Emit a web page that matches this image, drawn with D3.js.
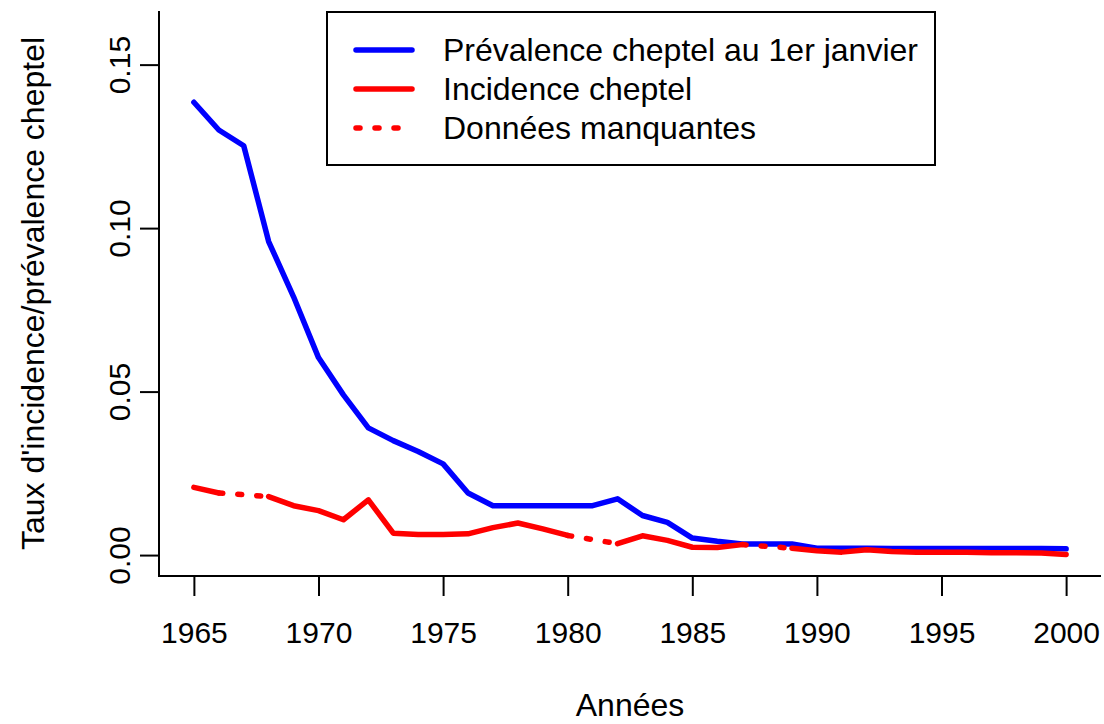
<!DOCTYPE html>
<html>
<head>
<meta charset="utf-8">
<script src="https://cdn.jsdelivr.net/npm/d3@7"></script>
<style>
  body { margin: 0; background: #fff; }
  svg text { font-family: "Liberation Sans", Arial, sans-serif; fill: #000; }
</style>
</head>
<body>
<svg class="s"></svg>
<script>
var w = 1104;
var h = 724;

// years 1965..2000
var years = [1965,1966,1967,1968,1969,1970,1971,1972,1973,1974,1975,1976,1977,1978,1979,1980,1981,1982,
             1983,1984,1985,1986,1987,1988,1989,1990,1991,1992,1993,1994,1995,1996,1997,1998,1999,2000];

// prevalence at 1 January (blue)
var prevalence = [0.1385,0.1300,0.1252,0.0959,0.0790,0.0604,0.0490,0.0389,0.0350,0.0317,0.0279,0.0190,
                  0.0151,0.0151,0.0151,0.0151,0.0151,0.0172,0.0121,0.0100,0.0052,0.0042,0.0034,0.0034,
                  0.0034,0.0021,0.0021,0.0021,0.0020,0.0020,0.0020,0.0020,0.0020,0.0020,0.0020,0.0019];

// incidence (red), null = missing year
var incidence = [0.0207,0.0190,null,0.0179,0.0151,0.0136,0.0108,0.0169,0.0067,0.0063,0.0063,0.0065,
                 0.0084,0.0098,0.0080,0.0060,null,0.0035,0.0059,0.0045,0.0024,0.0023,0.0032,null,
                 0.0021,0.0013,0.0009,0.0016,0.0011,0.0009,0.0009,0.0009,0.0007,0.0007,0.0006,0.0002];

var xTicks = [1965,1970,1975,1980,1985,1990,1995,2000];
var yTicks = [0,0.05,0.10,0.15];

var legendLabels = ['Prévalence cheptel au 1er janvier','Incidence cheptel','Données manquantes'];
var legendColors = ['#0000ff','#ff0000','#ff0000'];

var mLeft = 159, mRight = 1101, mTop = 11, mBottom = 576;

var svg = d3.select('.s')
            .attr('width',w)
            .attr('height',h);

// R style 4% extension
var xScale = d3.scaleLinear()
               .domain([1965 - 35*0.04, 2000 + 35*0.04])
               .range([mLeft,mRight]);

var yScale = d3.scaleLinear()
               .domain([0 - 0.16*0.04, 0.16 + 0.16*0.04])
               .range([mBottom,mTop]);

// L shaped box
svg.append('path')
   .attr('d','M'+mLeft+','+mTop+'V'+mBottom+'H'+mRight)
   .attr('fill','none')
   .attr('stroke','#000')
   .attr('stroke-width',2);

var xAxis = svg.append('g')
               .attr('transform','translate(0,'+mBottom+')')
               .call(d3.axisBottom(xScale).tickValues(xTicks).tickSize(20).tickFormat(d3.format('d')));
xAxis.select('.domain').remove();
xAxis.attr('font-family',null).attr('font-size',null);
xAxis.selectAll('line').attr('stroke','#000').attr('stroke-width',2);
xAxis.selectAll('text')
     .attr('y',67)
     .attr('dy',null)
     .style('font-size','30px');

var yAxis = svg.append('g')
               .attr('transform','translate('+mLeft+',0)')
               .call(d3.axisLeft(yScale).tickValues(yTicks).tickSize(19).tickFormat(d3.format('.2f')));
yAxis.select('.domain').remove();
yAxis.attr('font-family',null).attr('font-size',null);
yAxis.selectAll('line').attr('stroke','#000').attr('stroke-width',2);
yAxis.selectAll('text')
     .attr('x',0)
     .attr('y',-29)
     .attr('dy',null)
     .attr('transform','rotate(-90)')
     .attr('text-anchor','middle')
     .style('font-size','30px');

// axis titles
svg.append('text')
   .attr('x',(mLeft+mRight)/2)
   .attr('y',716)
   .attr('text-anchor','middle')
   .style('font-size','32px')
   .text('Années');

svg.append('text')
   .attr('transform','translate(44,'+((mTop+mBottom)/2)+') rotate(-90)')
   .attr('text-anchor','middle')
   .style('font-size','32px')
   .text("Taux d'incidence/prévalence cheptel");

var prevData = years.map(function(y,i){ return {year:y, value:prevalence[i]}; });
var incData = years.map(function(y,i){ return {year:y, value:incidence[i]}; });

var line = d3.line()
             .defined(function(d){ return d.value !== null; })
             .x(function(d){ return xScale(d.year); })
             .y(function(d){ return yScale(d.value); });

svg.append('path')
   .datum(prevData)
   .attr('d',line)
   .attr('fill','none')
   .attr('stroke','#0000ff')
   .attr('stroke-width',5.5)
   .attr('stroke-linejoin','round')
   .attr('stroke-linecap','round');

svg.append('path')
   .datum(incData)
   .attr('d',line)
   .attr('fill','none')
   .attr('stroke','#ff0000')
   .attr('stroke-width',5.5)
   .attr('stroke-linejoin','round')
   .attr('stroke-linecap','round');

// dotted bridges over the missing years
var gaps = [];
incData.forEach(function(d,i){
  if (d.value === null && i > 0 && i < incData.length-1) {
    gaps.push([incData[i-1], incData[i+1]]);
  }
});

svg.selectAll('.gap')
   .data(gaps)
   .enter()
   .append('path')
   .attr('class','gap')
   .attr('d',function(d){ return line(d); })
   .attr('fill','none')
   .attr('stroke','#ff0000')
   .attr('stroke-width',5.5)
   .attr('stroke-dasharray','4,15')
   .attr('stroke-linecap','round');

// legend
var legend = svg.append('g');
legend.append('rect')
      .attr('x',327)
      .attr('y',12)
      .attr('width',608)
      .attr('height',153)
      .attr('fill','#fff')
      .attr('stroke','#000')
      .attr('stroke-width',2);

var rowY = [50,89,128];
legendLabels.forEach(function(lab,i){
  legend.append('line')
        .attr('x1',356)
        .attr('x2',i == 2 ? 404 : 412)
        .attr('y1',rowY[i])
        .attr('y2',rowY[i])
        .attr('stroke',legendColors[i])
        .attr('stroke-width',5.5)
        .attr('stroke-linecap','round')
        .attr('stroke-dasharray',i == 2 ? '4,15' : null);
  legend.append('text')
        .attr('x',443)
        .attr('y',rowY[i]+11)
        .style('font-size','32px')
        .text(lab);
});
</script>
</body>
</html>
